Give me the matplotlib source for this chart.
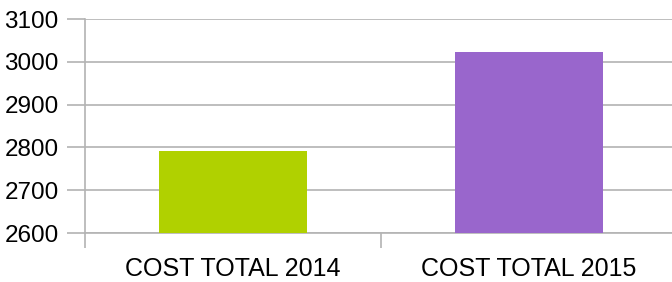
import matplotlib
matplotlib.use("Agg")
import matplotlib.pyplot as plt
from matplotlib.ticker import FixedLocator

categories = ["COST TOTAL 2014", "COST TOTAL 2015"]
values = [2791, 3022]
colors = ["#b0d100", "#9966cc"]
yticks = [2600, 2700, 2800, 2900, 3000, 3100]

plt.rcParams['font.family'] = ['Liberation Sans', 'DejaVu Sans']
fig = plt.figure(figsize=(6.72, 2.82), dpi=100)
ax = fig.add_axes([85/672, 49/282, 592/672, 214/282])

x = list(range(len(categories)))
ax.bar(x, values, width=0.5, color=colors, zorder=3)
ax.set_xlim(-0.5, len(categories) - 0.5)
ax.set_ylim(2600, 3100)
ax.set_yticks(yticks)
ax.set_xticks(x)
ax.set_xticklabels(categories, fontsize=18)
ax.tick_params(axis='x', which='major', length=0, pad=17)
ax.xaxis.set_minor_locator(FixedLocator([-0.5, 0.5, 1.5]))
ax.tick_params(axis='x', which='minor', length=11, color='#b3b3b3', width=1.2)
ax.tick_params(axis='y', length=13, color='#b3b3b3', width=1.2, labelsize=17.5, pad=6)
ax.grid(axis='y', color='#b3b3b3', linewidth=1.2, zorder=0)
for s in ['top', 'right']:
    ax.spines[s].set_visible(False)
for s in ['left', 'bottom']:
    ax.spines[s].set_color('#b3b3b3')
    ax.spines[s].set_linewidth(1.2)
ax.spines['left'].set_bounds(2600, 3100)

fig.savefig("out.png", dpi=100)
